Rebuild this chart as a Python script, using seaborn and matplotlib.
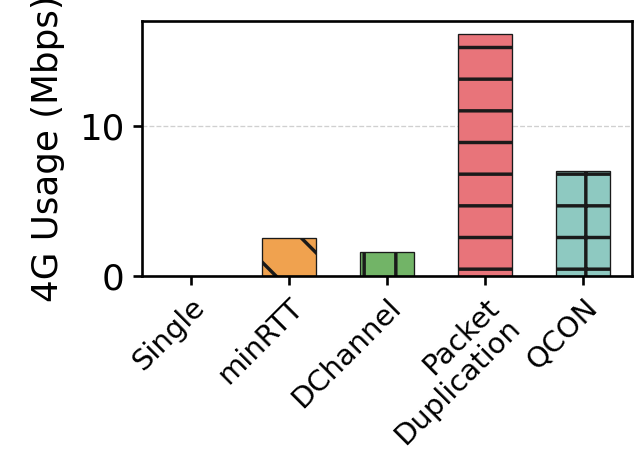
import matplotlib
matplotlib.use("Agg")
import matplotlib.pyplot as plt
import seaborn as sns
import pandas as pd

methods = ["Single", "minRTT", "DChannel", "Packet\nDuplication", "QCON"]
usage_mbps = [0.0, 2.5, 1.6, 16.15, 7.0]
bar_colors = ["#6f9fd8", "#f0a24f", "#72b467", "#e8747a", "#8ec9c1"]
hatches = ["", "\\", "|", "-", "+"]
y_ticks = [0, 10]

sns.set_style("ticks")
plt.rcParams["font.family"] = ["DejaVu Sans"]
plt.rcParams["hatch.linewidth"] = 1.3
plt.rcParams["text.color"] = "black"
plt.rcParams["axes.labelcolor"] = "black"
plt.rcParams["xtick.color"] = "black"
plt.rcParams["ytick.color"] = "black"
plt.rcParams["axes.edgecolor"] = "black"

df = pd.DataFrame({"method": methods, "usage": usage_mbps})

fig = plt.figure(figsize=(639 / 190, 453 / 190), dpi=190)
ax = fig.add_axes([0.222, 0.391, 0.767, 0.563])

sns.barplot(data=df, x="method", y="usage", hue="method", palette=bar_colors,
            saturation=1, width=0.55, edgecolor="#1a1a1a", linewidth=0.5,
            legend=False, ax=ax)

for patch, h in zip(ax.patches, hatches):
    patch.set_hatch(h)
    if patch.get_height() == 0:
        patch.set_visible(False)

ax.set_xlim(-0.5, 4.5)
ax.set_ylim(0, 17)
ax.set_yticks(y_ticks)
ax.set_xlabel("")
ax.set_ylabel("4G Usage (Mbps)", fontsize=13.5, labelpad=5.5)
ax.yaxis.grid(True, linestyle="--", color="#d0d0d0", linewidth=0.5)
ax.set_axisbelow(True)

for s in ax.spines.values():
    s.set_linewidth(1.0)
ax.tick_params(axis="both", width=1.0, length=3.5, labelsize=13.5, pad=3)
ax.tick_params(axis="x", labelsize=11)
for lbl in ax.get_xticklabels():
    lbl.set_rotation(45)
    lbl.set_ha("right")
    lbl.set_rotation_mode("anchor")
    lbl.set_linespacing(1.05)

fig.savefig("out.png", dpi=190)
